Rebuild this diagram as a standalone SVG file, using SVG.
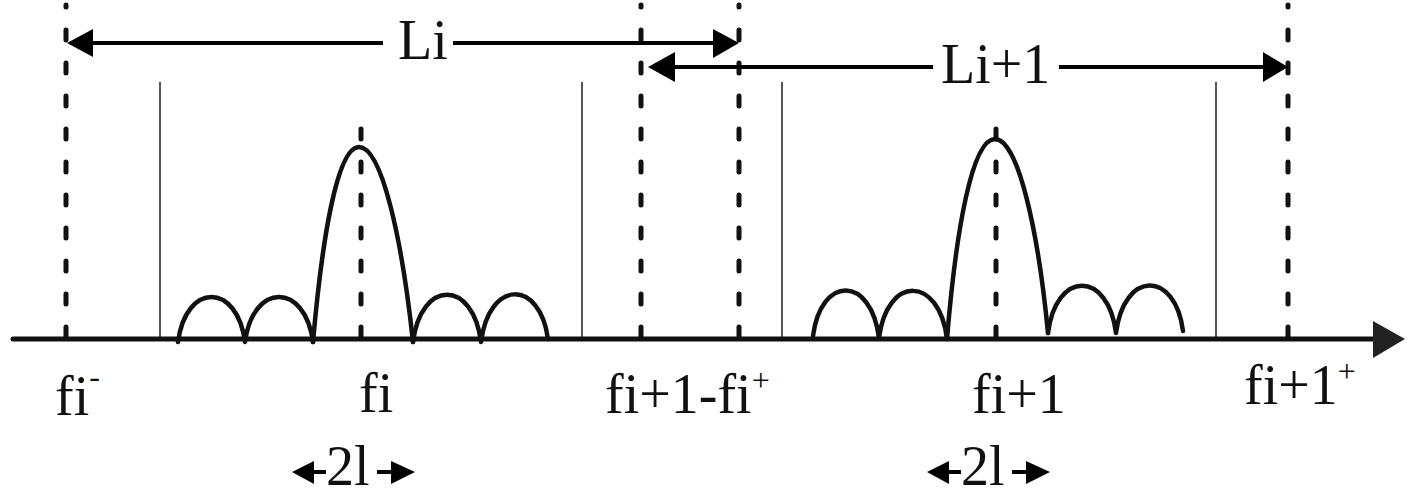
<svg xmlns="http://www.w3.org/2000/svg" width="1417" height="501" viewBox="0 0 1417 501">
<style>
.dash{stroke:#111;stroke-width:5;stroke-dasharray:10 23;stroke-linecap:round;fill:none}
.gray{stroke:#555;stroke-width:2;fill:none}
.line{stroke:#000;stroke-width:4;fill:none}
.curve{stroke:#111;stroke-width:4.5;fill:none;stroke-linecap:round;stroke-linejoin:round}
.head{fill:#000}
.t{font-family:"Liberation Serif","Times New Roman",serif;font-size:56px;fill:#111}
.sup{font-size:32px}
</style>
<rect width="1417" height="501" fill="#fff"/>
<g id="guides">
<line class="dash" x1="66" y1="337" x2="66" y2="5"/>
<line class="dash" x1="641" y1="337" x2="641" y2="5"/>
<line class="dash" x1="739" y1="337" x2="739" y2="5"/>
<line class="dash" x1="1288" y1="337" x2="1288" y2="5"/>
<line class="dash" x1="361" y1="337" x2="361" y2="127"/>
<line class="dash" x1="996" y1="337" x2="996" y2="127"/>
<path class="gray" d="M147,340 H160 V82"/>
<path class="gray" d="M562,340 H582 V82"/>
<path class="gray" d="M761,340 H782 V82"/>
<path class="gray" d="M1216,340 V82"/>
</g>
<g id="axis">
<line x1="13" y1="339" x2="1376" y2="339" stroke="#111" stroke-width="5" stroke-linecap="round"/>
<polygon points="1373,321 1405,339 1373,358" fill="#222"/>
</g>
<g id="spectrum-i">
<path class="curve" d="M178,342 C186,282 237,282 245,342 C253,282 305,282 313,342"/>
<path class="curve" d="M313,342 C322,240 337,147 359,147 C382,147 402,240 413,342"/>
<path class="curve" d="M413,342 C421,279 473,279 481,342 C489,279 540,279 548,339"/>
</g>
<g id="spectrum-i1">
<path class="curve" d="M813,336 C821,275 871,275 879,338 C887,275 939,275 947,339"/>
<path class="curve" d="M947,339 C956,230 972,139 995,139 C1018,139 1038,230 1048,333"/>
<path class="curve" d="M1048,333 C1056,270 1108,270 1116,333 C1124,270 1175,270 1183,331"/>
</g>
<g id="connectors">
<line class="line" x1="90" y1="43" x2="383" y2="43"/>
<line class="line" x1="453" y1="43" x2="716" y2="43"/>
<polygon class="head" points="67,43 93,29 93,57"/>
<polygon class="head" points="739,43 713,29 713,58"/>
<line class="line" x1="672" y1="67" x2="933" y2="67"/>
<line class="line" x1="1059" y1="67" x2="1266" y2="67"/>
<polygon class="head" points="648,67 675,52 675,82"/>
<polygon class="head" points="1288,67 1263,52 1263,82"/>
<line class="line" x1="311" y1="472" x2="326" y2="472"/>
<polygon class="head" points="292,472 314,461 314,484"/>
<line class="line" x1="377" y1="472" x2="394" y2="472"/>
<polygon class="head" points="415,472 391,461 391,484"/>
<line class="line" x1="946" y1="472" x2="961" y2="472"/>
<polygon class="head" points="927,472 949,461 949,484"/>
<line class="line" x1="1012" y1="472" x2="1029" y2="472"/>
<polygon class="head" points="1050,472 1026,461 1026,484"/>
</g>
<g id="labels">
<text id="label-Li" class="t" x="398" y="59">Li</text>
<text id="label-Li1" class="t" x="941" y="83">Li+1</text>
<text id="label-fi-minus" class="t" x="55" y="415">fi<tspan class="sup" dy="-28">-</tspan></text>
<text id="label-fi" class="t" x="359" y="412">fi</text>
<text id="label-fi1-fi-plus" class="t" x="605" y="413">fi+1-fi<tspan class="sup" dy="-22">+</tspan></text>
<text id="label-fi1" class="t" x="972" y="413">fi+1</text>
<text id="label-fi1-plus" class="t" x="1244" y="404">fi+1<tspan class="sup" dy="-22">+</tspan></text>
<text id="label-2l-a" class="t" x="326" y="485">2l</text>
<text id="label-2l-b" class="t" x="961" y="485">2l</text>
</g>
</svg>
